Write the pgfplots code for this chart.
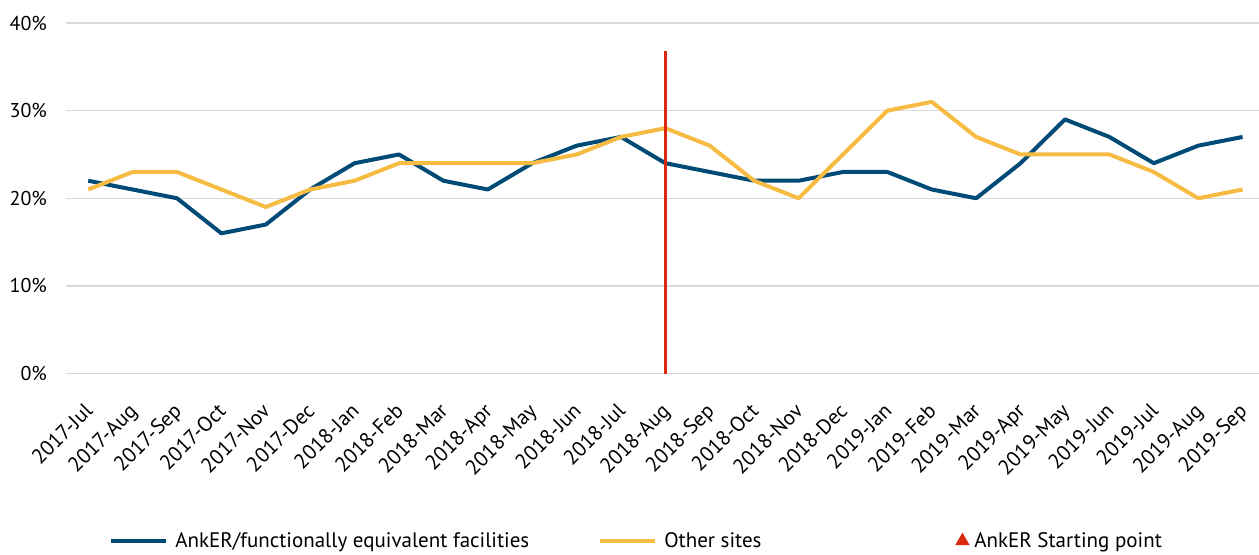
\documentclass[border=0pt]{standalone}
\usepackage{pgfplots}
\usepackage{pgfplotstable}
\pgfplotsset{compat=1.18}
\usepackage{fontspec}
\setmainfont{PT Sans}

\definecolor{ankblue}{RGB}{0,75,118}
\definecolor{othyellow}{RGB}{246,187,66}
\definecolor{startred}{RGB}{218,41,15}
\definecolor{gridgray}{RGB}{217,217,217}

% Monthly shares (%) per site type, July 2017 to September 2019
\pgfplotstableread{
idx anker other
0  22 21
1  21 23
2  20 23
3  16 21
4  17 19
5  21 21
6  24 22
7  25 24
8  22 24
9  21 24
10 24 24
11 26 25
12 27 27
13 24 28
14 23 26
15 22 22
16 22 20
17 23 25
18 23 30
19 21 31
20 20 27
21 24 25
22 29 25
23 27 25
24 24 23
25 26 20
26 27 21
}\sharetable

% AnkER starting point (2018-Aug)
\pgfplotstableread{
idx val
13 0
13 36.8
}\starttable

\begin{document}
\begin{tikzpicture}
\useasboundingbox (0,0) rectangle (629.5pt,277pt);
\begin{axis}[
  at={(33pt,90.25pt)}, anchor=south west,
  scale only axis, width=596.5pt, height=175.25pt,
  xmin=-0.5, xmax=26.37, ymin=0, ymax=40,
  clip=false,
  axis line style={draw=none},
  tick style={draw=none},
  ymajorgrids,
  major grid style={gridgray, line width=0.75pt},
  ytick={0,10,20,30,40},
  yticklabel={\pgfmathprintnumber{\tick}\%},
  /pgf/number format/assume math mode=true,
  yticklabel style={font=\fontsize{10}{12}\selectfont, xshift=-6pt},
  xtick={0,...,26},
  xticklabels={2017-Jul,2017-Aug,2017-Sep,2017-Oct,2017-Nov,2017-Dec,
    2018-Jan,2018-Feb,2018-Mar,2018-Apr,2018-May,2018-Jun,2018-Jul,
    2018-Aug,2018-Sep,2018-Oct,2018-Nov,2018-Dec,2019-Jan,2019-Feb,
    2019-Mar,2019-Apr,2019-May,2019-Jun,2019-Jul,2019-Aug,2019-Sep},
  xticklabel style={font=\fontsize{10.5}{12}\selectfont, xshift=-2.5pt, yshift=-12.5pt,
    rotate=45, anchor=north east, inner sep=1pt},
  legend columns=3,
  legend style={at={(axis description cs:0.036,-0.478)}, anchor=west,
    draw=none, fill=none, inner sep=0pt,
    font=\fontsize{10.5}{12}\selectfont,
    nodes={inner sep=0pt, anchor=west},
    /tikz/every odd column/.append style={column sep=3.5pt},
    /tikz/column 2/.style={column sep=34.5pt},
    /tikz/column 4/.style={column sep=98pt}},
]
\addplot[ankblue, line width=2pt, line join=round,
  legend image code/.code={\draw[ankblue, line width=2pt] (0pt,0pt) -- (27.5pt,0pt);}]
  table[x=idx, y=anker] {\sharetable};
\addlegendentry{AnkER/functionally equivalent facilities}
\addplot[othyellow, line width=2pt, line join=round,
  legend image code/.code={\draw[othyellow, line width=2pt] (0pt,0pt) -- (27.5pt,0pt);}]
  table[x=idx, y=other] {\sharetable};
\addlegendentry{Other sites}
\addplot[startred, line width=1.4pt,
  legend image code/.code={\draw[draw=none, mark=triangle*, mark size=2.8pt, mark options={fill=startred, draw=none}] plot coordinates {(2.5pt,0pt)};}]
  table[x=idx, y=val] {\starttable};
\addlegendentry{AnkER Starting point}
\end{axis}
\end{tikzpicture}
\end{document}
